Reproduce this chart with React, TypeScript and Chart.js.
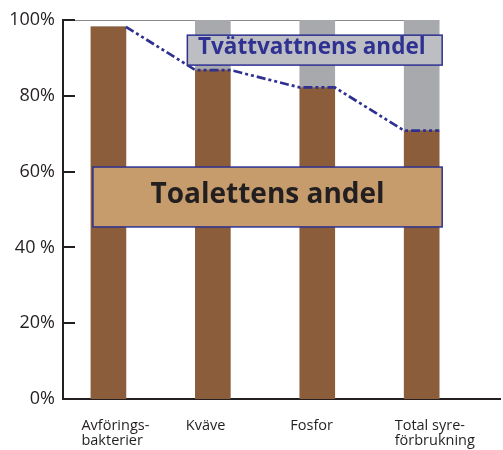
import React, { useEffect, useRef } from "react";
import { Chart, registerables } from "chart.js";

Chart.register(...registerables);

const CATEGORIES: string[][] = [
  ["Avförings-", "bakterier"],
  ["Kväve"],
  ["Fosfor"],
  ["Total syre-", "förbrukning"],
];
const TOILET_SHARE = [98.2, 86.8, 82.2, 70.8];
const WASH_SHARE = [0, 13.2, 17.8, 29.2];
const Y_TICKS = [0, 20, 40, 60, 80, 100];
const Y_TICK_LABELS = ["0%", "20%", "40 %", "60%", "80%", "100%"];
const TOILET_LABEL = "Toalettens andel";
const WASH_LABEL = "Tvättvattnens andel";

const FONT = "'Open Sans', 'DejaVu Sans', sans-serif";
const BROWN = "#8B5D3B";
const GREY = "#A7A9AC";
const BLUE = "#2E3192";
const INK = "#231F20";

const overlay = {
  id: "overlay",
  beforeDatasetsDraw(chart: any) {
    const ctx = chart.ctx;
    const bars = chart.getDatasetMeta(0).data;
    const ys = chart.scales.y;
    const left = chart.chartArea.left;
    const last = bars[bars.length - 1];
    ctx.save();
    ctx.strokeStyle = "#8a8a8a";
    ctx.lineWidth = 1;
    const yTop = Math.round(ys.getPixelForValue(100)) + 0.5;
    ctx.beginPath();
    ctx.moveTo(left, yTop);
    ctx.lineTo(last.x + last.width / 2, yTop);
    ctx.stroke();
    ctx.restore();
  },
  afterDatasetsDraw(chart: any) {
    const ctx = chart.ctx;
    const ys = chart.scales.y;
    const left = chart.chartArea.left;
    const bars = chart.getDatasetMeta(0).data;

    ctx.save();
    // inward tick marks
    ctx.strokeStyle = INK;
    ctx.lineWidth = 2;
    for (const v of Y_TICKS) {
      const py = Math.round(ys.getPixelForValue(v));
      ctx.beginPath();
      ctx.moveTo(left - 1, py);
      ctx.lineTo(left + 12, py);
      ctx.stroke();
    }

    // dash-dot-dot line along the tops of the toilet bars
    ctx.strokeStyle = BLUE;
    ctx.lineWidth = 2.7;
    ctx.setLineDash([9, 3, 3, 3, 3, 3]);
    ctx.beginPath();
    bars.forEach((b: any, i: number) => {
      const l = b.x - b.width / 2;
      const r = b.x + b.width / 2;
      if (i === 0) {
        ctx.moveTo(r, b.y);
      } else {
        ctx.lineTo(l, b.y);
        ctx.lineTo(r, b.y);
      }
    });
    ctx.stroke();
    ctx.setLineDash([]);

    // wash-water label box
    const b1 = bars[1];
    const b3 = bars[3];
    const b0 = bars[0];
    const gx1 = b1.x - b1.width / 2 - 8;
    const gx2 = b3.x + b3.width / 2 + 3;
    const gy1 = ys.getPixelForValue(96);
    const gy2 = ys.getPixelForValue(88.1);
    ctx.fillStyle = "#BDBEC3";
    ctx.fillRect(gx1, gy1, gx2 - gx1, gy2 - gy1);
    ctx.strokeStyle = BLUE;
    ctx.lineWidth = 1.5;
    ctx.strokeRect(gx1, gy1, gx2 - gx1, gy2 - gy1);
    ctx.fillStyle = BLUE;
    ctx.font = `bold 22.5px ${FONT}`;
    ctx.textAlign = "center";
    ctx.textBaseline = "alphabetic";
    ctx.fillText(WASH_LABEL, (gx1 + gx2) / 2 - 3, gy2 - 11);

    // toilet label box
    const tx1 = b0.x - b0.width / 2 + 2;
    const tx2 = b3.x + b3.width / 2 + 3;
    const ty1 = ys.getPixelForValue(61.2);
    const ty2 = ys.getPixelForValue(45.4);
    ctx.fillStyle = "#C69C6D";
    ctx.fillRect(tx1, ty1, tx2 - tx1, ty2 - ty1);
    ctx.strokeStyle = BLUE;
    ctx.lineWidth = 1.5;
    ctx.strokeRect(tx1, ty1, tx2 - tx1, ty2 - ty1);
    ctx.fillStyle = INK;
    ctx.font = `bold 28px ${FONT}`;
    ctx.fillText(TOILET_LABEL, (tx1 + tx2) / 2, ty1 + 36);
    ctx.restore();
  },
};

export default function App() {
  const ref = useRef<HTMLCanvasElement | null>(null);

  useEffect(() => {
    document.body.style.margin = "0";
    const canvas = ref.current;
    if (!canvas) return;
    const chart = new Chart(canvas, {
      type: "bar",
      data: {
        datasets: [
          {
            label: TOILET_LABEL,
            data: TOILET_SHARE.map((v, i) => ({ x: i, y: v })),
            backgroundColor: BROWN,
            barThickness: 35,
            stack: "s",
          },
          {
            label: WASH_LABEL,
            data: WASH_SHARE.map((v, i) => ({ x: i, y: v })),
            backgroundColor: GREY,
            barThickness: 35,
            stack: "s",
          },
        ],
      },
      options: {
        responsive: false,
        animation: false,
        layout: { padding: { top: 20, right: 3, left: 0, bottom: 0 } },
        plugins: {
          legend: { display: false },
          tooltip: { enabled: false },
        },
        scales: {
          x: {
            type: "linear",
            min: -0.435,
            max: 3.75,
            offset: false,
            stacked: true,
            grid: { display: false, drawTicks: false, offset: false },
            border: { display: true, color: INK, width: 2 },
            afterBuildTicks: (scale: any) => {
              scale.ticks = CATEGORIES.map((_, i) => ({ value: i }));
            },
            afterFit: (scale: any) => {
              scale.height = 51;
              scale.paddingLeft = 0;
              scale.paddingRight = 0;
            },
            ticks: {
              align: "start",
              labelOffset: -27,
              padding: 19,
              maxRotation: 0,
              autoSkip: false,
              color: INK,
              font: { family: FONT, size: 14.5, lineHeight: 1.05 },
              callback: (value: any) => CATEGORIES[value as number] ?? "",
            },
          },
          y: {
            min: 0,
            max: 100,
            stacked: true,
            grid: { display: false, drawTicks: false },
            border: { display: true, color: INK, width: 2 },
            afterBuildTicks: (scale: any) => {
              scale.ticks = Y_TICKS.map((v) => ({ value: v }));
            },
            afterFit: (scale: any) => {
              scale.width = 63;
              scale.paddingTop = 0;
              scale.paddingBottom = 0;
            },
            ticks: {
              padding: 8,
              color: INK,
              font: { family: FONT, size: 18 },
              callback: (value: any) => Y_TICK_LABELS[Y_TICKS.indexOf(value as number)] ?? "",
            },
          },
        },
      },
      plugins: [overlay],
    } as any);
    return () => chart.destroy();
  }, []);

  return <canvas ref={ref} width={503} height={450} style={{ display: "block" }} />;
}
